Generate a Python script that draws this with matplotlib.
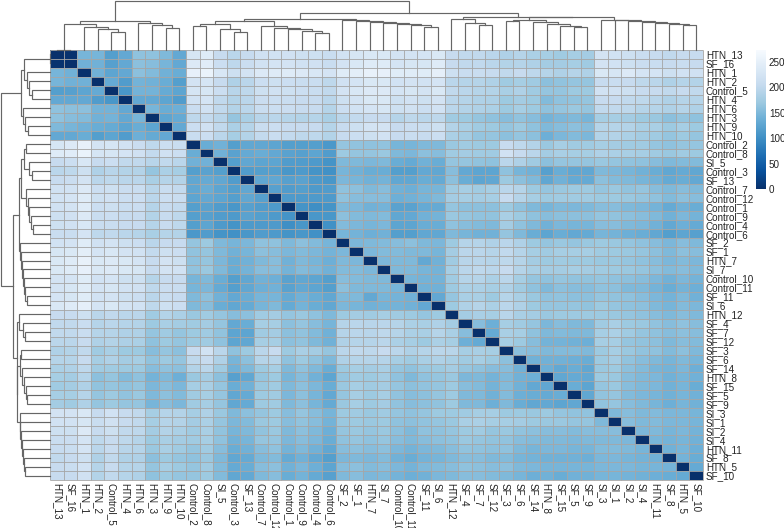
import numpy as np
import matplotlib
matplotlib.use("Agg")
import matplotlib.pyplot as plt
from matplotlib.colors import LinearSegmentedColormap

plt.rcParams['font.family'] = ['Liberation Sans', 'DejaVu Sans']

labels = ["HTN_13","SF_16","HTN_1","HTN_2","Control_5","HTN_4","HTN_6","HTN_3","HTN_9","HTN_10",
          "Control_2","Control_8","SI_5","Control_3","SF_13","Control_7","Control_12","Control_1","Control_9","Control_4","Control_6",
          "SF_2","SF_1","HTN_7","SI_7","Control_10","Control_11","SF_11","SI_6",
          "HTN_12","SF_4","SF_7","SF_12","SF_3","SF_6","SF_14","HTN_8","SF_15","SF_5","SF_9",
          "SI_3","SI_1","SI_2","SI_4","HTN_11","SF_8","HTN_5","SF_10"]

# upper triangle of the distance matrix, one row per sample (columns right of the diagonal)
r00 = [3,145,145,118,130,160,160,150,130, 228,238,205,195,205,218,220,218,215,215,208, 220,228,232,232,222,222,225,232, 205,200,200,195, 185,190,182,178,172,178,175, 222,220,215,208,205,200,205,205]
r01 = [140,140,120,130,158,155,145,130, 235,242,212,198,210,220,225,222,218,218,208, 222,232,238,238,225,228,228,238, 205,200,200,195, 188,190,185,175,175,178,172, 222,220,215,210,208,205,208,205]
r02 = [140,125,130,158,152,140,135, 250,255,230,215,222,235,238,238,235,230,225, 240,245,252,250,240,240,240,248, 215,208,208,205, 200,205,198,190,185,190,185, 232,228,235,225,225,215,220,218]
r03 = [132,115,142,140,135,118, 222,226,205,185,195,212,215,212,208,208,198, 218,225,232,232,220,222,220,225, 195,190,190,185, 172,178,172,158,162,165,165, 205,208,205,198,195,185,190,188]
r04 = [108,142,142,133,125, 226,228,212,192,198,215,218,215,212,208,200, 222,230,235,235,225,228,222,232, 200,195,190,188, 180,185,172,165,165,170,170, 220,218,215,205,205,200,205,200]
r05 = [130,130,125,115, 220,224,200,188,195,210,212,208,205,205,195, 215,222,232,232,215,220,215,222, 195,190,185,183, 170,175,170,152,160,162,165, 205,205,200,198,192,185,190,190]
r06 = [145,135,138, 210,218,200,188,195,208,212,210,205,205,190, 212,220,225,228,215,218,212,220, 195,188,185,182, 170,178,170,160,165,168,165, 200,200,198,190,190,185,190,185]
r07 = [125,132, 198,202,192,165,180,192,195,190,188,190,180, 195,202,205,205,190,198,195,198, 172,170,165,160, 155,162,155,142,148,150,145, 178,178,175,170,168,158,165,160]
r08 = [130, 212,218,200,182,190,208,212,205,205,205,190, 205,215,222,222,205,210,208,215, 188,180,172,170, 165,170,160,150,155,158,155, 190,190,188,180,180,170,178,170]
r09 = [208,212,195,178,188,202,208,202,198,198,188, 205,212,215,220,205,208,205,212, 182,175,165,165, 158,165,158,138,148,152,148, 188,188,182,175,172,165,170,165]
r10 = [135, 140,118,128, 128,125,118,118,118,110, 165,162,160,162,145,145,150,150, 168,172,170,170, 205,198,188,168,178,172,172, 178,175,172,172,165,160,165,165]
r11 = [140,122,132, 135,130,122,120,125,115, 170,165,165,168,150,148,158,155, 172,175,172,172, 220,205,195,175,180,178,178, 185,182,180,178,172,168,172,170]
r12 = [118,128, 125,125,115,115,112,105, 150,150,148,150,135,132,140,135, 165,165,162,160, 195,185,172,158,165,165,165, 168,165,162,160,155,150,152,152]
r13 = [115, 118,118,108,112,105,102, 145,140,135,135,118,118,130,128, 155,130,125,125, 160,145,140,120,135,128,128, 150,148,145,140,135,128,132,128]
r14 = [128,128,120,122,112,108, 148,145,140,142,128,128,135,132, 158,135,125,128, 170,158,150,128,140,132,132, 158,152,150,145,140,132,135,130]
r15 = [120,115,118,112,115, 160,158,150,155,140,138,145,145, 172,178,172,178, 195,190,170,165,168,170,170, 165,168,162,165,155,150,155,150]
r16 = [112,112,112,112, 160,155,155,155,138,140,145,150, 175,178,175,178, 205,190,178,170,172,172,172, 170,170,168,165,160,152,158,155]
r17 = [105,100,105, 150,148,140,142,122,122,132,132, 165,158,158,158, 170,160,150,145,150,148,150, 155,155,150,148,142,132,140,135]
r18 = [108,108, 158,152,150,152,128,130,140,142, 168,165,162,162, 180,170,160,155,158,158,158, 165,162,158,155,150,140,148,142]
r19 = [102, 152,148,145,148,125,125,135,135, 160,155,152,150, 175,160,150,140,148,145,145, 155,155,150,148,140,130,138,132]
r20 = [145,142,138,140,118,118,128,128, 150,145,140,140, 165,150,135,125,135,130,132, 145,142,138,135,128,118,125,120]
r21 = [148,150,152,155,158,150,148, 170,190,190,185, 195,185,170,165,168,165,168, 170,168,165,160,155,148,155,150]
r22 = [148,152,152,150,150,145, 175,195,195,190, 200,190,178,172,178,178,178, 172,170,168,165,158,150,158,155]
r23 = [148,150,150,130,140, 172,192,192,190, 198,190,175,170,172,170,170, 168,168,165,160,155,148,152,148]
r24 = [150,150,145,142, 178,195,198,195, 205,190,180,175,175,178,175, 172,170,168,165,158,152,155,150]
r25 = [145,142,142, 172,190,190,182, 195,178,165,160,165,162,162, 165,160,158,155,148,140,148,142]
r26 = [140,140, 170,182,182,178, 185,172,160,150,158,155,155, 160,158,150,150,142,135,142,138]
r27 = [130, 165,180,180,170, 190,180,168,160,162,158,158, 165,162,160,155,148,142,150,140]
r28 = [170,185,190,182, 195,185,170,165,165,165,162, 170,165,160,158,150,145,152,148]
r29 = [175,180,178, 192,180,175,168,170,170,170, 170,168,165,160,155,150,155,150]
r30 = [155,138, 178,172,165,148,155,150,150, 172,180,170,168,162,155,160,155]
r31 = [132, 180,178,160,150,152,150,150, 178,182,172,165,160,155,158,155]
r32 = [178,170,155,142,142,140,138, 178,178,165,162,158,150,155,152]
r33 = [158,155,150,152,152,150, 170,178,168,162,160,152,158,150]
r34 = [140,140,140,138,135, 170,175,162,155,150,145,150,145]
r35 = [138,130,135,128, 168,170,158,152,145,142,148,138]
r36 = [128,132,130, 170,168,155,150,148,140,145,140]
r37 = [135,125, 165,168,155,150,148,140,145,135]
r38 = [128, 162,165,152,148,145,140,145,140]
r39 = [162,165,155,150,145,138,145,140]
r40 = [150,155,150,152,148,148,145]
r41 = [155,150,152,148,148,145]
r42 = [148,150,145,148,142]
r43 = [145,142,145,140]
r44 = [140,145,138]
r45 = [142,135]
r46 = [132]
upper_rows = [r00,r01,r02,r03,r04,r05,r06,r07,r08,r09,r10,r11,r12,r13,r14,r15,r16,r17,r18,r19,r20,r21,r22,r23,
              r24,r25,r26,r27,r28,r29,r30,r31,r32,r33,r34,r35,r36,r37,r38,r39,r40,r41,r42,r43,r44,r45,r46]

# clustering tree: (left, right, merge height); leaves are row/column positions
g_a1 = (2, (3, (4, 5, 18.3), 20.7), 23.3)
g_a = (((0, 1, 0.5), g_a1, 26), (6, (7, (8, 9, 22.3), 24.7), 26.7), 29)
g_b1 = ((10, 11, 24), (12, (13, 14, 17.7), 20.7), 26)
g_b2 = (15, (16, (17, (18, (19, 20, 17.3), 19), 20.7), 22), 24)
g_b = (g_b1, g_b2, 29.5)
g_c = (21, (22, (23, (24, (25, (26, (27, 28, 23.3), 25), 26), 26.7), 27.7), 28.7), 30)
g_d = (29, (30, (31, 32, 25), 26.7), 31)
g_e = ((33, 34, 29.3), (35, (36, (37, (38, 39, 23.3), 24.3), 26), 28.3), 30)
g_f = (40, (41, (42, (43, (44, (45, (46, 47, 25), 26), 27.3), 28), 28.7), 29.7), 30.2)
tree_root = (g_a, ((g_b, g_c, 30.7), (g_d, (g_e, g_f, 32.7), 33.3), 37.3), 49)

cbar_ticks = [0, 50, 100, 150, 200, 250]
vmax = 273

n = len(labels)
mat = np.zeros((n, n))
for i, row in enumerate(upper_rows):
    mat[i, i + 1:] = row
    mat[i + 1:, i] = row

W, H = 784, 528
fig = plt.figure(figsize=(W / 100, H / 100), dpi=100)
def px_axes(x0, y0, x1, y1):
    return fig.add_axes([x0 / W, 1 - y1 / H, (x1 - x0) / W, (y1 - y0) / H])

colors = ["#08306B","#08519C","#2171B5","#4292C6","#6BAED6","#9ECAE1","#C6DBEF","#DEEBF7","#F7FBFF"]
cmap = LinearSegmentedColormap.from_list("blues_rev", colors, N=256)

HX0, HY0, HX1, HY1 = 50, 50, 703, 480
ax = px_axes(HX0, HY0, HX1, HY1)
ax.pcolormesh(np.arange(n + 1), np.arange(n + 1), mat, cmap=cmap, vmin=0, vmax=vmax,
              edgecolors='none', linewidth=0, antialiased=False)
grid_pos = np.arange(n + 1)
ax.hlines(grid_pos, 0, n, color="#A6A6A6", lw=0.62, clip_on=False)
ax.vlines(grid_pos, 0, n, color="#A6A6A6", lw=0.62, clip_on=False)
ax.set_xlim(0, n); ax.set_ylim(n, 0)
ax.set_xticks(np.arange(n) + .5); ax.set_yticks(np.arange(n) + .5)
ax.set_xticklabels(labels, rotation=270, ha='center', va='top', fontsize=7.1, color='#222222')
ax.set_yticklabels(labels, fontsize=7.1, color='#222222')
ax.yaxis.tick_right()
ax.tick_params(length=0, pad=2.0)
for s in ax.spines.values():
    s.set_visible(False)

def segs(node, out):
    if not isinstance(node, tuple):
        return node + .5, 0.0
    lx, lh = segs(node[0], out)
    rx, rh = segs(node[1], out)
    h = node[2]
    out.append(((lx, lx, rx, rx), (lh, h, h, rh)))
    return (lx + rx) / 2, h

tree_lines = []
segs(tree_root, tree_lines)

top = px_axes(HX0, 0, HX1, 50)
top.set_xlim(0, n); top.set_ylim(0, 50); top.axis('off')
left = px_axes(0, HY0, 50, HY1)
left.set_xlim(50, 0); left.set_ylim(n, 0); left.axis('off')
for xs, ys in tree_lines:
    top.plot(xs, ys, color="#666666", lw=0.85, solid_joinstyle='miter', clip_on=False)
    left.plot(ys, xs, color="#666666", lw=0.85, solid_joinstyle='miter', clip_on=False)

cax = px_axes(756, 50, 766, 189)
grad = np.linspace(0, vmax, 256).reshape(-1, 1)
cax.imshow(grad, origin='lower', aspect='auto', cmap=cmap, vmin=0, vmax=vmax, extent=[0, 1, 0, vmax])
cax.set_xticks([])
cax.yaxis.tick_right()
cax.set_yticks(cbar_ticks)
cax.set_yticklabels([str(t) for t in cbar_ticks], fontsize=7.1, color='#222222')
cax.tick_params(length=0, pad=2.0)
for s in cax.spines.values():
    s.set_visible(False)

fig.savefig("out.png", dpi=100, facecolor='white')
